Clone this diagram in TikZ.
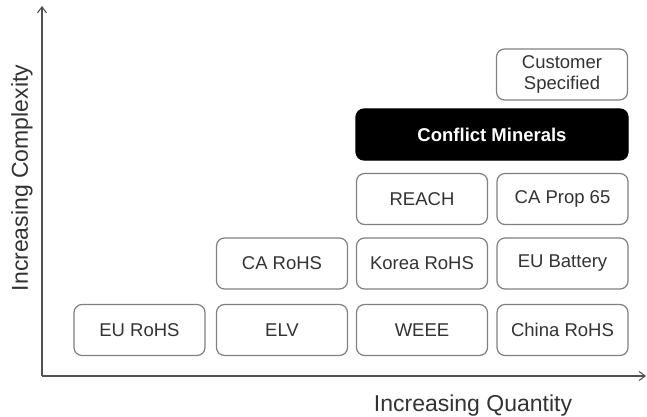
\documentclass[tikz,border=0pt]{standalone}
\usepackage{fontspec}
\setmainfont{Liberation Sans}
\usetikzlibrary{arrows.meta}
\definecolor{txt}{HTML}{333333}
\definecolor{boxline}{HTML}{808080}
\definecolor{axisline}{HTML}{505050}
\tikzset{
  regbox/.style={draw=boxline, line width=1.2pt, rounded corners=8pt, fill=white,
    minimum width=#1, minimum height=51pt, inner sep=0pt, text=txt, align=center,
    font=\fontsize{18.5}{21}\selectfont},
  regbox/.default=131pt,
  darkbox/.style={draw=black, line width=1.2pt, rounded corners=8pt, fill=black,
    minimum width=272pt, minimum height=51pt, inner sep=0pt, text=white,
    font=\fontsize{18.5}{21}\selectfont\bfseries},
  axislabel/.style={text=txt, font=\fontsize{23}{26}\selectfont, inner sep=0pt},
  axisarrow/.style={draw=axisline, line width=1.1pt, -{Straight Barb[length=6pt,width=9pt,line width=1.1pt]}}
}
\begin{document}
\begin{tikzpicture}[x=1pt,y=-1pt]
\useasboundingbox (0,0) rectangle (647,417);
% axes
\coordinate (O) at (42,376);
\coordinate (ytop) at (42,6);
\coordinate (xend) at (646,376);
\draw[axisarrow] (O) -- (ytop);
\draw[axisarrow] (O) -- (xend);
% axis labels
\node[axislabel, rotate=90] (ylab) at (22,178) {Increasing Complexity};
\node[axislabel, anchor=base] (xlab) at (473,411) {Increasing Quantity};
% row 1
\node[regbox] (eurohs) at (139.5,330) {EU RoHS};
\node[regbox] (elv) at (282,330) {ELV};
\node[regbox] (weee) at (422,330) {WEEE};
\node[regbox] (china) at (562.5,330) {China RoHS};
% row 2
\node[regbox] (carohs) at (282,263.5) {CA RoHS};
\node[regbox] (korea) at (422,263.5) {Korea RoHS};
\node[regbox] (battery) at (562.5,263.5) {EU Battery};
% row 3
\node[regbox] (reach) at (422,199) {REACH};
\node[regbox] (prop65) at (562.5,199) {CA Prop 65};
% row 4
\node[darkbox] (conflict) at (492,134.5) {Conflict Minerals};
% row 5
\node[regbox] (customer) at (562,74.5) {Customer\\Specified};
\end{tikzpicture}
\end{document}
